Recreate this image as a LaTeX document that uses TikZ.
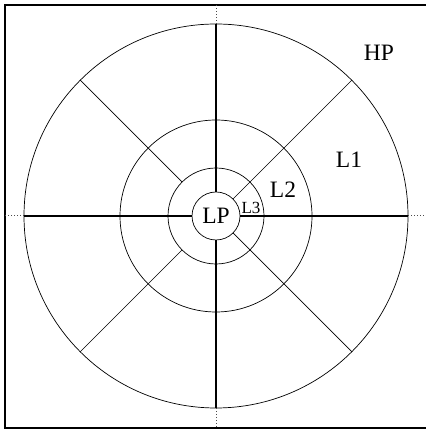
\documentclass[tikz,border=0pt]{standalone}
\usepackage{fontspec}
\setmainfont{Liberation Serif}
\usetikzlibrary{positioning, calc}
\tikzset{every node/.append style={align=center}}
\tikzset{
  ring/.style={draw=black, line width=0.7pt},
  spoke/.style={draw=black, line width=0.7pt},
  axis/.style={draw=black, line width=1.6pt},
  guide/.style={draw=black!70, line width=1pt, dotted},
  frame/.style={draw=black, line width=2pt},
  lbl/.style={font=\fontsize{23.5}{23.5}\selectfont, inner sep=0pt},
}

\begin{document}
\begin{tikzpicture}[x=1pt, y=1pt]
\useasboundingbox (0,0) rectangle (425,430);

% ── Frame (open on the right) ────────────────────────────────────────────────
\draw[frame] (426,425) -- (5,425) -- (5,2) -- (426,2);

\coordinate (c) at (216,214);

% ── Rings ───────────────────────────────────────────────────────────────────
\foreach \r in {48,96,192} {
  \draw[ring] (c) circle (\r);
}
\node[ring, circle, minimum size=48pt, inner sep=0pt, lbl] (lp) at (c) {LP};

% ── Spokes ──────────────────────────────────────────────────────────────────
\foreach \a in {0,90,180,270} {
  \draw[axis] ($(c)+(\a:24)$) -- ($(c)+(\a:192)$);
}
\foreach \a/\r in {45/24, 135/48, 225/48, 315/24} {
  \draw[spoke] ($(c)+(\a:\r)$) -- ($(c)+(\a:192)$);
}

% ── Dotted axis ends ────────────────────────────────────────────────────────
\draw[guide] ($(c)+(0,192)$) -- (216,425);
\draw[guide] ($(c)+(0,-192)$) -- (216,2);
\draw[guide] ($(c)+(-192,0)$) -- (5,214);
\draw[guide] ($(c)+(192,0)$) -- (425,214);

% ── Band labels ─────────────────────────────────────────────────────────────
\node[lbl] (hp) at (379,377) {HP};
\node[lbl] (l1) at (349,270) {L1};
\node[lbl] (l2) at (283,240) {L2};
\node[lbl, font=\fontsize{17}{17}\selectfont] (l3) at (251,222) {L3};

\end{tikzpicture}
\end{document}
